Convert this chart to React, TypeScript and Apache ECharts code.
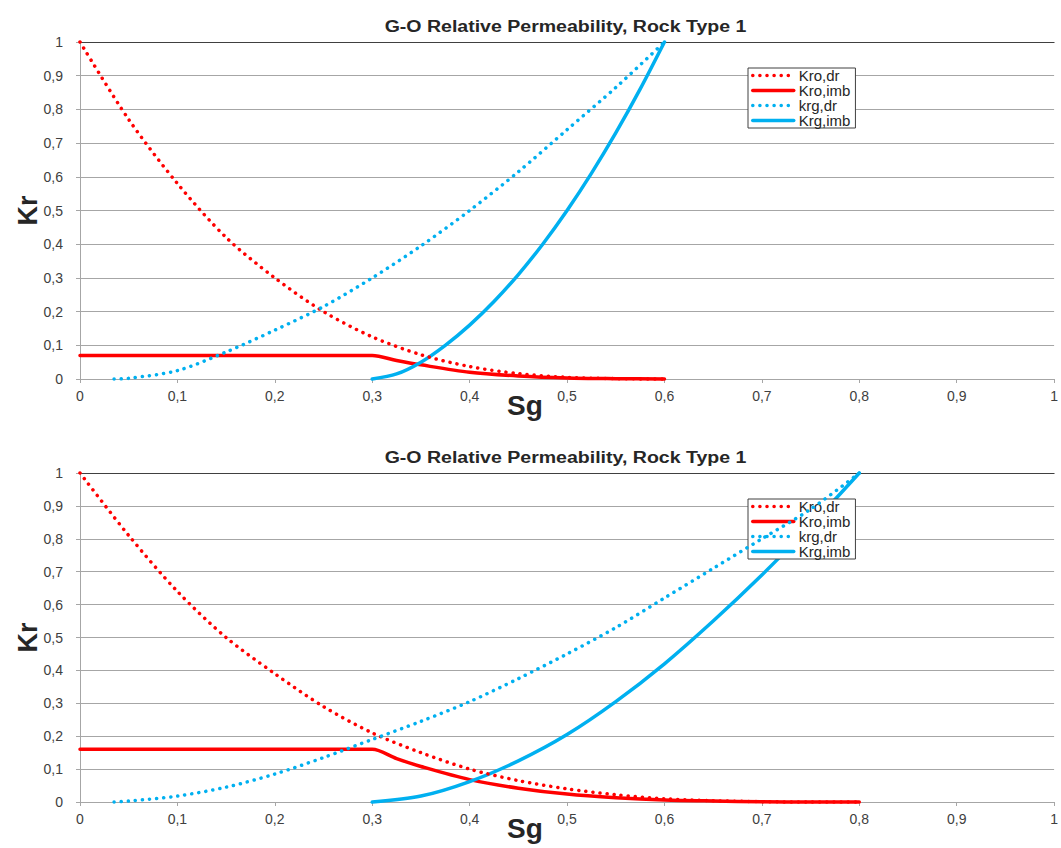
import React, { useEffect, useRef } from "react";
import * as echarts from "echarts";

// ---------- Data ----------
const titleText = "G-O Relative Permeability, Rock Type 1";
const seriesNames = ["Kro,dr", "Kro,imb", "krg,dr", "Krg,imb"];

// Chart 1 (top)
const sgKroDr1 = [0, 0.05, 0.1, 0.15, 0.2, 0.25, 0.3, 0.35, 0.4, 0.45, 0.5, 0.55, 0.6];
const kroDr1 = [1, 0.77, 0.58, 0.42, 0.3, 0.2, 0.125, 0.072, 0.037, 0.016, 0.005, 0.001, 0];
const sgKroImb1 = [0, 0.1, 0.2, 0.3, 0.325, 0.35, 0.4, 0.45, 0.5, 0.55, 0.6];
const kroImb1 = [0.07, 0.07, 0.07, 0.07, 0.055, 0.042, 0.02, 0.009, 0.003, 0.001, 0];
const sgKrgDr1 = [0.035, 0.05, 0.1, 0.15, 0.2, 0.25, 0.3, 0.35, 0.4, 0.45, 0.5, 0.55, 0.6];
const krgDr1 = [0, 0.002, 0.025, 0.08, 0.145, 0.215, 0.3, 0.395, 0.5, 0.615, 0.74, 0.865, 1.0];
const sgKrgImb1 = [0.3, 0.325, 0.35, 0.375, 0.4, 0.425, 0.45, 0.475, 0.5, 0.525, 0.55, 0.575, 0.6];
const krgImb1 = [0, 0.015, 0.05, 0.1, 0.16, 0.23, 0.31, 0.4, 0.5, 0.61, 0.73, 0.86, 1.0];

// Chart 2 (bottom)
const sgKroDr2 = [0, 0.05, 0.1, 0.15, 0.2, 0.25, 0.3, 0.35, 0.4, 0.45, 0.5, 0.55, 0.6, 0.65, 0.7, 0.75, 0.8];
const kroDr2 = [1, 0.81, 0.64, 0.5, 0.39, 0.29, 0.21, 0.15, 0.1, 0.065, 0.04, 0.022, 0.01, 0.004, 0.001, 0, 0];
const sgKroImb2 = [0, 0.1, 0.2, 0.3, 0.325, 0.35, 0.4, 0.45, 0.5, 0.55, 0.6, 0.65, 0.7, 0.75, 0.8];
const kroImb2 = [0.16, 0.16, 0.16, 0.16, 0.132, 0.108, 0.068, 0.042, 0.024, 0.013, 0.006, 0.003, 0.001, 0, 0];
const sgKrgDr2 = [0.035, 0.05, 0.1, 0.15, 0.2, 0.25, 0.3, 0.35, 0.4, 0.45, 0.5, 0.55, 0.6, 0.65, 0.7, 0.75, 0.8];
const krgDr2 = [0, 0.003, 0.018, 0.045, 0.085, 0.135, 0.19, 0.245, 0.305, 0.375, 0.45, 0.53, 0.62, 0.71, 0.8, 0.89, 1.0];
const sgKrgImb2 = [0.3, 0.35, 0.4, 0.45, 0.5, 0.55, 0.6, 0.65, 0.7, 0.75, 0.8];
const krgImb2 = [0, 0.018, 0.062, 0.125, 0.205, 0.305, 0.42, 0.55, 0.69, 0.84, 1.0];

// ---------- Styling ----------
const RED = "#FF0000";
const BLUE = "#00B0F0";
const FONT = "'Liberation Sans', Arial, Helvetica, sans-serif";
const GRID_COLOR = "#a6a6a6";
const TEXT_COLOR = "#404040";

const zip = (xs: number[], ys: number[]) => xs.map((x, i) => [x, ys[i]]);
const fmt = (v: number) => String(Math.round(v * 10) / 10).replace(".", ",");

const grids = [
  { left: 80, top: 42, width: 977, height: 337 },
  { left: 80, top: 473, width: 977, height: 329 },
];

const chartsData = [
  [zip(sgKroDr1, kroDr1), zip(sgKroImb1, kroImb1), zip(sgKrgDr1, krgDr1), zip(sgKrgImb1, krgImb1)],
  [zip(sgKroDr2, kroDr2), zip(sgKroImb2, kroImb2), zip(sgKrgDr2, krgDr2), zip(sgKrgImb2, krgImb2)],
];

const styles = [
  { color: RED, dotted: true },
  { color: RED, dotted: false },
  { color: BLUE, dotted: true },
  { color: BLUE, dotted: false },
];

export default function App() {
  const ref = useRef<HTMLDivElement>(null);

  useEffect(() => {
    if (!ref.current) return;
    const chart = echarts.init(ref.current, null, { renderer: "svg" });

    const xAxes: any[] = [];
    const yAxes: any[] = [];
    const series: any[] = [];
    const graphics: any[] = [];
    const legends: any[] = [];

    grids.forEach((g, gi) => {
      xAxes.push({
        type: "value",
        gridIndex: gi,
        min: 0,
        max: 1,
        interval: 0.1,
        position: "bottom",
        axisLine: { show: true, onZero: false, lineStyle: { color: GRID_COLOR, width: 1 } },
        axisTick: { show: true, length: 4, inside: false, lineStyle: { color: GRID_COLOR } },
        axisLabel: {
          show: true,
          margin: 10,
          color: TEXT_COLOR,
          fontFamily: FONT,
          fontSize: 14,
          formatter: fmt,
        },
        splitLine: { show: false },
      });
      xAxes.push({
        type: "value",
        gridIndex: gi,
        min: 0,
        max: 1,
        interval: 0.1,
        position: "top",
        axisLine: { show: true, onZero: false, lineStyle: { color: "#404040", width: 1 } },
        axisTick: { show: false },
        axisLabel: { show: false },
        splitLine: { show: false },
      });
      yAxes.push({
        type: "value",
        gridIndex: gi,
        min: 0,
        max: 1,
        interval: 0.1,
        axisLine: { show: true, onZero: false, lineStyle: { color: GRID_COLOR, width: 1 } },
        axisTick: { show: true, length: 4, inside: false, lineStyle: { color: GRID_COLOR } },
        axisLabel: {
          show: true,
          margin: 17,
          color: TEXT_COLOR,
          fontFamily: FONT,
          fontSize: 14,
          formatter: fmt,
        },
        splitLine: { show: true, lineStyle: { color: GRID_COLOR, width: 1 } },
      });

      chartsData[gi].forEach((data, si) => {
        const st = styles[si];
        series.push({
          type: "line",
          name: seriesNames[si],
          xAxisIndex: gi * 2,
          yAxisIndex: gi,
          data,
          smooth: 0.3,
          symbol: "none",
          showSymbol: false,
          clip: false,
          z: si === 1 || si === 3 ? 3 : 4,
          lineStyle: st.dotted
            ? { color: st.color, width: 3.5, type: [0.1, 7], cap: "round" }
            : { color: st.color, width: 3.5, type: "solid", cap: "round" },
          itemStyle: { color: st.color },
        });
      });

      legends.push({
        data: seriesNames,
        orient: "vertical",
        left: 748,
        top: gi === 0 ? 68 : 499,
        itemWidth: 41,
        itemHeight: 16,
        itemGap: 0,
        padding: [0, 5, 0, 3],
        backgroundColor: "#ffffff",
        borderColor: "#404040",
        borderWidth: 1,
        selectedMode: false,
        itemStyle: { opacity: 0 },
        lineStyle: { width: 3.5 },
        textStyle: { color: "#262626", fontFamily: FONT, fontSize: 15 },
      });

      const cx = g.left + g.width / 2;
      graphics.push({
        type: "text",
        x: cx - 3,
        y: g.top - 16,
        scaleX: 1.15,
        style: {
          text: titleText,
          fill: "#262626",
          font: `bold 17px ${FONT}`,
          align: "center",
          verticalAlign: "middle",
        },
      });
      graphics.push({
        type: "text",
        x: 28,
        y: g.top + g.height / 2,
        rotation: Math.PI / 2,
        style: {
          text: "Kr",
          fill: "#262626",
          font: `bold 27px ${FONT}`,
          align: "center",
          verticalAlign: "middle",
        },
      });
      graphics.push({
        type: "text",
        x: 525,
        y: g.top + g.height + 26,
        style: {
          text: "Sg",
          fill: "#262626",
          font: `bold 28px ${FONT}`,
          align: "center",
          verticalAlign: "middle",
        },
      });
    });

    chart.setOption({
      animation: false,
      backgroundColor: "#ffffff",
      grid: grids.map((g) => ({ ...g, containLabel: false })),
      xAxis: xAxes,
      yAxis: yAxes,
      legend: legends,
      series,
      graphic: graphics,
    });

    return () => chart.dispose();
  }, []);

  return (
    <div
      ref={ref}
      style={{ position: "absolute", left: 0, top: 0, width: 1061, height: 848 }}
    />
  );
}
